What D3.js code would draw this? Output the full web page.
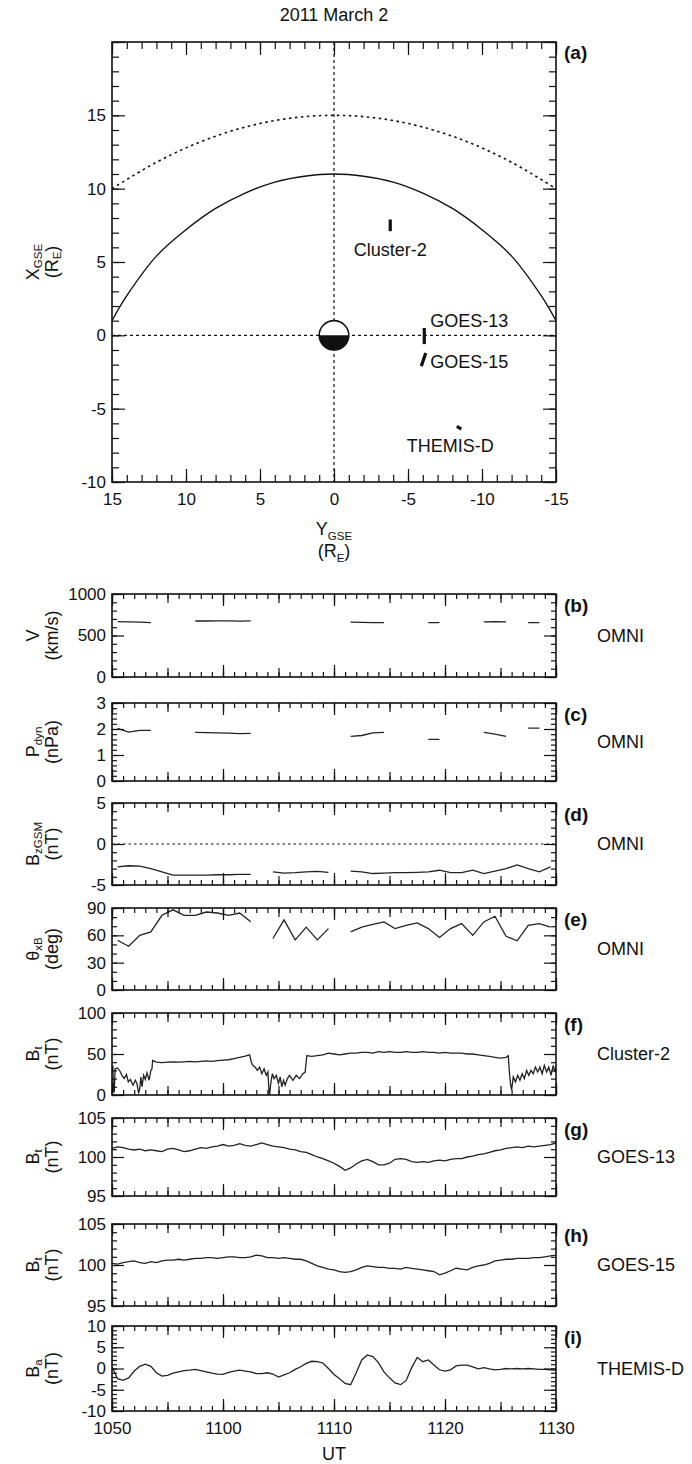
<!DOCTYPE html>
<html>
<head>
<meta charset="utf-8">
<title>2011 March 2</title>
<script src="https://cdn.jsdelivr.net/npm/d3@7"></script>
<style>
  body { margin: 0; background: #fff; }
  svg { display: block; font-family: "Liberation Sans", Arial, Helvetica, sans-serif; }
</style>
</head>
<body>
<svg id="chart" width="692" height="1464"></svg>
<script>
// ---------- panel (a): orbit plot in GSE, units of R_E
const magnetopauseY = [15, 14, 12, 10, 8, 6, 4, 2, 0, -2, -4, -6, -8, -10, -12, -14, -15];
const magnetopauseX = [1.0, 2.7, 5.4, 7.2, 8.65, 9.7, 10.45, 10.85, 11.0, 10.85, 10.45, 9.7, 8.65, 7.2, 5.4, 2.7, 1.0];
const bowShockY = [15, 12, 9, 6, 3, 0, -3, -6, -9, -12, -15];
const bowShockX = [10.0, 11.8, 13.2, 14.2, 14.8, 15.0, 14.8, 14.2, 13.2, 11.8, 10.0];
const craftNames = ["Cluster-2", "GOES-13", "GOES-15", "THEMIS-D"];
const craftTrackY = [[-3.8, -3.8], [-6.1, -6.1], [-6.2, -5.9], [-8.3, -8.6]];
const craftTrackX = [[7.9, 7.1], [0.5, -0.6], [-1.2, -2.1], [-6.2, -6.4]];
const craftLabelY = [-3.8, -6.5, -6.5, -7.85];
const craftLabelX = [5.85, 0.95, -1.85, -7.55];
const earthRadius = 1;
const orbitXTicks = [15, 10, 5, 0, -5, -10, -15];
const orbitYTicks = [-10, -5, 0, 5, 10, 15, 20];

// ---------- OMNI solar wind (minutes after 10:50 UT, null = data gap)
const swTime  = [0.5, 1.5, 2.5, 3.5, 5, 7.5, 8.5, 9.5, 10.5, 11.5, 12.5, 17, 21.5, 22.5, 23.5, 24.5, 26, 28.5, 29.5, 31, 33.5, 34.5, 35.5, 36.5, 37.5, 38.5];
const swSpeed = [668, 665, 660, 655, null, 675, 675, 676, 675, 674, 675, null, 660, 658, 656, 654, null, 655, 655, null, 665, 668, 665, null, 655, 655];
const swPdyn  = [2.02, 1.88, 1.95, 1.95, null, 1.87, 1.86, 1.85, 1.84, 1.82, 1.83, null, 1.72, 1.75, 1.85, 1.87, null, 1.6, 1.6, null, 1.87, 1.8, 1.72, null, 2.03, 2.03];

const imfTime = [0.5, 1.5, 2.5, 3.5, 4.5, 5.5, 6.5, 7.5, 8.5, 9.5, 10.5, 11.5, 12.5, 13.5,
  14.5, 15.5, 16.5, 17.5, 18.5, 19.5, 20.5,
  21.5, 22.5, 23.5, 24.5, 25.5, 26.5, 27.5, 28.5, 29.5, 30.5, 31.5, 32.5, 33.5, 34.5, 35.5, 36.5, 37.5, 38.5, 39.5];
const imfBz = [-2.8, -2.65, -2.7, -3.0, -3.4, -3.8, -3.8, -3.8, -3.8, -3.75, -3.75, -3.7, -3.7, null,
  -3.4, -3.55, -3.5, -3.4, -3.35, -3.45, null,
  -3.3, -3.4, -3.6, -3.55, -3.5, -3.5, -3.45, -3.4, -3.2, -3.5, -3.5, -3.2, -3.6, -3.3, -3.0, -2.55, -3.0, -3.4, -2.8];
const imfTheta = [54.6, 48, 60, 63.8, 82, 88, 82, 82, 85.6, 84.5, 82, 84.5, 75, null,
  56.5, 77, 55, 69, 55, 67.4, null,
  63.8, 69, 72, 74.7, 67.4, 71, 73.6, 67.4, 57.6, 67.4, 72.9, 60, 74.7, 80.9, 59, 54, 71, 72.9, 69];

// ---------- Cluster-2 |B|
const clusterTime = [0, 0.08, 0.12, 0.2, 0.28, 0.5, 0.72, 0.9, 1.1, 1.3, 1.47, 1.65, 1.9, 2.1, 2.25, 2.4, 2.5, 2.6, 2.7, 2.85,
  3.0, 3.15, 3.35, 3.5, 3.6, 3.66, 4, 4.5, 5, 5.5, 6, 6.5, 7, 7.5, 8, 8.5, 9, 9.5, 10, 10.5,
  11, 11.5, 12, 12.4, 12.55, 12.7, 12.9, 13.1, 13.3, 13.5, 13.7, 13.9, 14.05, 14.15, 14.2, 14.3, 14.45, 14.6, 14.8, 15.0,
  15.15, 15.3, 15.45, 15.6, 15.8, 16.0, 16.3, 16.6, 16.9, 17.2, 17.4, 17.55, 18, 18.5, 19, 19.5, 20, 20.5, 21, 21.5,
  22, 22.5, 23, 23.5, 24, 24.5, 25, 25.5, 26, 26.5, 27, 27.5, 28, 28.5, 29, 29.5, 30, 30.5, 31, 31.5,
  32, 32.5, 33, 33.5, 34, 34.5, 35, 35.5, 35.7, 35.8, 35.9, 36.0, 36.15, 36.35, 36.55, 36.75, 36.95, 37.15, 37.35, 37.55,
  37.75, 37.95, 38.15, 38.35, 38.55, 38.75, 38.95, 39.15, 39.35, 39.55, 39.75, 39.9, 40];
const clusterBt = [28, 36, 6, 3, 32, 33, 29, 24, 20, 25, 16, 19, 12, 18, 14, 2, 8, 22, 10, 24,
  19, 27, 18, 30, 32, 42, 40, 39.5, 40, 40.5, 40, 40.5, 41, 40.5, 41, 41.5, 41, 42, 42.5, 43,
  44.5, 46, 47.5, 49, 40, 36, 34, 30, 34, 26, 32, 24, 28, 2, 0, 14, 26, 20, 24, 14,
  22, 10, 18, 12, 20, 24, 18, 24, 20, 26, 28, 48, 47, 48, 49, 51, 50, 49, 50, 51,
  51, 52, 52, 51, 53, 52, 53, 52, 52, 53, 52, 52, 53, 52, 52, 51, 52, 51, 51, 51,
  50, 50, 49, 48, 47, 46, 45, 46, 48, 28, 14, 6, 22, 16, 24, 18, 26, 20, 30, 24,
  30, 26, 34, 28, 34, 26, 36, 28, 34, 24, 36, 28, 34];

// ---------- GOES-13, GOES-15, THEMIS-D (every 0.5 min from 10:50 UT)
const goes13Bt = [101.1, 101.3, 101.2, 101.0, 100.9, 101.0, 100.8, 100.9, 100.8, 100.7,
  101.0, 101.1, 100.9, 100.7, 100.8, 101.0, 101.2, 101.1, 101.3, 101.4,
  101.6, 101.4, 101.5, 101.7, 101.5, 101.4, 101.6, 101.8, 101.6, 101.4,
  101.3, 101.2, 101.0, 100.9, 100.7, 100.6, 100.3, 100.0, 99.8, 99.5,
  99.2, 98.8, 98.3, 98.6, 99.1, 99.5, 99.7, 99.4, 99.0, 99.0,
  99.2, 99.7, 99.8, 99.7, 99.4, 99.3, 99.4, 99.3, 99.5, 99.6,
  99.5, 99.7, 99.8, 99.8, 100.0, 100.1, 100.3, 100.4, 100.6, 100.8,
  100.9, 101.1, 101.2, 101.3, 101.2, 101.4, 101.3, 101.4, 101.5, 101.6,
  101.8];
const goes15Bt = [100.2, 100.1, 100.3, 100.4, 100.5, 100.3, 100.2, 100.4, 100.3, 100.5,
  100.6, 100.6, 100.7, 100.6, 100.7, 100.8, 100.8, 100.9, 100.9, 100.8,
  100.9, 101.0, 101.0, 100.9, 100.9, 101.0, 101.2, 101.1, 100.9, 100.9,
  100.8, 100.9, 100.8, 100.7, 100.7, 100.5, 100.2, 99.9, 99.7, 99.5,
  99.4, 99.2, 99.1, 99.2, 99.4, 99.7, 99.9, 99.8, 99.7, 99.7,
  99.6, 99.6, 99.5, 99.7, 99.6, 99.5, 99.4, 99.3, 99.2, 98.8,
  99.0, 99.3, 99.6, 99.5, 99.4, 99.7, 99.9, 100.0, 100.2, 100.5,
  100.6, 100.7, 100.7, 100.8, 100.8, 100.8, 100.9, 100.9, 101.0, 101.1,
  101.2];
const themisBa = [0.4, -2.4, -2.8, -2.2, -0.6, 0.5, 1.0, 0.5, -1.0, -1.8,
  -1.6, -1.1, -0.8, -0.5, -0.4, -0.2, -0.5, -0.8, -1.1, -1.3,
  -1.4, -0.9, -0.6, -0.4, -0.6, -0.8, -1.2, -1.2, -1.0, -1.3,
  -2.0, -1.5, -1.0, -0.2, 0.4, 1.2, 1.7, 1.6, 1.3, 0.0,
  -1.4, -2.4, -3.5, -3.8, -1.0, 2.0, 3.2, 2.8, 1.4, -0.8,
  -2.2, -3.4, -3.8, -2.8, 0.2, 2.6, 1.6, 2.0, 0.8, -0.3,
  -0.6, -0.3, 0.6, 0.8, 0.8, 0.4, -0.1, 0.2, -0.1, -0.3,
  -0.2, 0.0, -0.1, 0.0, -0.1, 0.0, -0.1, -0.2, -0.2, -0.3,
  -0.4];
const halfMinuteTime = d3.range(0, 40.25, 0.5);

// ---------- axis tick labels
const speedTicks = [0, 500, 1000];
const pdynTicks = [0, 1, 2, 3];
const bzTicks = [-5, 0, 5];
const thetaTicks = [0, 30, 60, 90];
const clusterTicks = [0, 50, 100];
const goesTicks = [95, 100, 105];
const themisTicks = [-10, -5, 0, 5, 10];

// ---------- layout
const L = 112, R = 556;
const svg = d3.select("#chart");
const ink = "#111";

function addTicks(g, axisFn, scale, values, len, transform, fmt, pad) {
  const axis = axisFn(scale).tickValues(values).tickSize(-len)
    .tickPadding(pad || 6).tickFormat(fmt || (() => ""));
  const a = g.append("g").attr("transform", transform).call(axis)
    .attr("font-family", null).attr("font-size", 17);
  a.select(".domain").remove();
  a.selectAll(".tick line").attr("stroke", ink).attr("stroke-width", 1.2);
  a.selectAll(".tick text").attr("fill", ink);
  return a;
}

// text with subscripts: parts = [[string, isSubscript], ...]
function richText(sel, parts, size, shift) {
  let sub = false;
  const dy = size * shift;
  parts.forEach(([s, isSub]) => {
    const t = sel.append("tspan").text(s);
    if (isSub) t.attr("font-size", size * 0.64);
    if (isSub && !sub) t.attr("dy", dy);
    if (!isSub && sub) t.attr("dy", -dy);
    sub = isSub;
  });
}

function yLabel(nameParts, unitParts, cy) {
  [[nameParts, 39], [unitParts, 58]].forEach(([parts, x]) => {
    const t = svg.append("text")
      .attr("transform", `translate(${x},${cy}) rotate(-90)`)
      .attr("text-anchor", "middle").attr("font-size", 18).attr("fill", ink);
    richText(t, parts, 18, 0.14);
  });
}

// ---------- title
svg.append("text").attr("x", 334).attr("y", 21).attr("text-anchor", "middle")
  .attr("font-size", 18).attr("fill", ink).text("2011 March 2");

// ---------- panel (a)
const ax = d3.scaleLinear().domain([15, -15]).range([L, R]);
const ay = d3.scaleLinear().domain([-10, 20]).range([482, 42]);
const ga = svg.append("g");
ga.append("clipPath").attr("id", "clip-a").append("rect")
  .attr("x", L).attr("y", ay(20)).attr("width", R - L).attr("height", ay(-10) - ay(20));

ga.append("line").attr("x1", ax(0)).attr("x2", ax(0)).attr("y1", ay(20)).attr("y2", ay(-10))
  .attr("stroke", ink).attr("stroke-width", 1.2).attr("stroke-dasharray", "3,3");
ga.append("line").attr("x1", ax(15)).attr("x2", ax(-15)).attr("y1", ay(0)).attr("y2", ay(0))
  .attr("stroke", ink).attr("stroke-width", 1.2).attr("stroke-dasharray", "3,3");

const orbitLine = d3.line().x(d => ax(d[0])).y(d => ay(d[1])).curve(d3.curveCatmullRom);
ga.append("path").datum(bowShockY.map((y, i) => [y, bowShockX[i]]))
  .attr("clip-path", "url(#clip-a)")
  .attr("d", orbitLine).attr("fill", "none").attr("stroke", ink)
  .attr("stroke-width", 1.6).attr("stroke-dasharray", "2.5,3.5");
ga.append("path").datum(magnetopauseY.map((y, i) => [y, magnetopauseX[i]]))
  .attr("clip-path", "url(#clip-a)")
  .attr("d", orbitLine).attr("fill", "none").attr("stroke", ink).attr("stroke-width", 1.4);

// Earth: dayside white, nightside black
const ex = ax(0), ey = ay(0);
const erx = Math.abs(ax(earthRadius) - ax(0)), ery = Math.abs(ay(earthRadius) - ay(0));
ga.append("ellipse").attr("cx", ex).attr("cy", ey).attr("rx", erx).attr("ry", ery)
  .attr("fill", "#fff").attr("stroke", ink).attr("stroke-width", 1.6);
ga.append("path")
  .attr("d", `M${ex - erx},${ey} A${erx},${ery} 0 0 0 ${ex + erx},${ey} Z`)
  .attr("fill", ink);

craftNames.forEach((name, i) => {
  ga.append("line")
    .attr("x1", ax(craftTrackY[i][0])).attr("y1", ay(craftTrackX[i][0]))
    .attr("x2", ax(craftTrackY[i][1])).attr("y2", ay(craftTrackX[i][1]))
    .attr("stroke", ink).attr("stroke-width", 3.2);
  const anchor = (name === "GOES-13" || name === "GOES-15") ? "start" : "middle";
  ga.append("text").attr("x", ax(craftLabelY[i])).attr("y", ay(craftLabelX[i]))
    .attr("dominant-baseline", "central").attr("text-anchor", anchor)
    .attr("font-size", 18).attr("fill", ink).text(name);
});

ga.append("rect").attr("x", L).attr("y", ay(20)).attr("width", R - L)
  .attr("height", ay(-10) - ay(20)).attr("fill", "none").attr("stroke", ink).attr("stroke-width", 1.6);

const axMinor = d3.range(-15, 16, 1), ayMinor = d3.range(-10, 21, 1);
const numFmt = d => String(d);
addTicks(ga, d3.axisTop, ax, axMinor, 7, `translate(0,${ay(20)})`);
addTicks(ga, d3.axisTop, ax, orbitXTicks, 13, `translate(0,${ay(20)})`);
addTicks(ga, d3.axisBottom, ax, axMinor, 7, `translate(0,${ay(-10)})`);
addTicks(ga, d3.axisBottom, ax, orbitXTicks, 13, `translate(0,${ay(-10)})`, numFmt, 11);
addTicks(ga, d3.axisLeft, ay, ayMinor, 7, `translate(${L},0)`);
addTicks(ga, d3.axisLeft, ay, orbitYTicks, 13, `translate(${L},0)`, d => d === 20 ? "" : String(d), 6);
addTicks(ga, d3.axisRight, ay, ayMinor, 7, `translate(${R},0)`);
addTicks(ga, d3.axisRight, ay, orbitYTicks, 13, `translate(${R},0)`);

ga.append("text").attr("x", 564).attr("y", 59).attr("font-size", 19)
  .attr("font-weight", "bold").attr("fill", ink).text("(a)");
yLabel([["X", false], ["GSE", true]], [["(R", false], ["E", true], [")", false]], (ay(20) + ay(-10)) / 2);
const yg = svg.append("text").attr("x", 334).attr("y", 535).attr("text-anchor", "middle")
  .attr("font-size", 18).attr("fill", ink);
richText(yg, [["Y", false], ["GSE", true]], 18, 0.25);
const ye = svg.append("text").attr("x", 334).attr("y", 557).attr("text-anchor", "middle")
  .attr("font-size", 18).attr("fill", ink);
richText(ye, [["(R", false], ["E", true], [")", false]], 18, 0.25);

// ---------- time-series panels
const T0 = Date.UTC(2011, 2, 2, 10, 50);
const T1 = Date.UTC(2011, 2, 2, 11, 30);
const toDate = m => new Date(T0 + m * 60000);
const tx = d3.scaleUtc().domain([new Date(T0), new Date(T1)]).range([L, R]);
const min1 = d3.utcMinute.every(1).range(new Date(T0), new Date(T1 + 1));
const min5 = d3.utcMinute.every(5).range(new Date(T0), new Date(T1 + 1));
const min10 = d3.utcMinute.every(10).range(new Date(T0), new Date(T1 + 1));
const utFmt = d3.utcFormat("%H%M");

const panels = [
  { id: "b", top: 594, bottom: 677, domain: [0, 1000], ticks: speedTicks, minor: 100,
    name: [["V", false]], unit: [["(km/s)", false]], source: "OMNI", t: swTime, v: swSpeed },
  { id: "c", top: 703, bottom: 781, domain: [0, 3], ticks: pdynTicks, minor: 0.2,
    name: [["P", false], ["dyn", true]], unit: [["(nPa)", false]], source: "OMNI", t: swTime, v: swPdyn },
  { id: "d", top: 803, bottom: 885, domain: [-5, 5], ticks: bzTicks, minor: 1, zero: true,
    name: [["B", false], ["zGSM", true]], unit: [["(nT)", false]], source: "OMNI", t: imfTime, v: imfBz },
  { id: "e", top: 908, bottom: 990, domain: [0, 90], ticks: thetaTicks, minor: 10,
    name: [["θ", false], ["xB", true]], unit: [["(deg)", false]], source: "OMNI", t: imfTime, v: imfTheta },
  { id: "f", top: 1013, bottom: 1095, domain: [0, 100], ticks: clusterTicks, minor: 10,
    name: [["B", false], ["t", true]], unit: [["(nT)", false]], source: "Cluster-2", t: clusterTime, v: clusterBt },
  { id: "g", top: 1118, bottom: 1196, domain: [95, 105], ticks: goesTicks, minor: 1,
    name: [["B", false], ["t", true]], unit: [["(nT)", false]], source: "GOES-13", t: halfMinuteTime, v: goes13Bt },
  { id: "h", top: 1224, bottom: 1306, domain: [95, 105], ticks: goesTicks, minor: 1,
    name: [["B", false], ["t", true]], unit: [["(nT)", false]], source: "GOES-15", t: halfMinuteTime, v: goes15Bt },
  { id: "i", top: 1326, bottom: 1411, domain: [-10, 10], ticks: themisTicks, minor: 1,
    name: [["B", false], ["a", true]], unit: [["(nT)", false]], source: "THEMIS-D", t: halfMinuteTime, v: themisBa, last: true }
];

panels.forEach(p => {
  const g = svg.append("g");
  const y = d3.scaleLinear().domain(p.domain).range([p.bottom, p.top]);
  const minor = d3.range(p.domain[0], p.domain[1] + p.minor / 2, p.minor);

  g.append("clipPath").attr("id", "clip-" + p.id).append("rect")
    .attr("x", L).attr("y", p.top).attr("width", R - L).attr("height", p.bottom - p.top);

  if (p.zero) {
    g.append("line").attr("x1", L).attr("x2", R).attr("y1", y(0)).attr("y2", y(0))
      .attr("stroke", ink).attr("stroke-width", 1.2).attr("stroke-dasharray", "2.5,3");
  }

  const line = d3.line().defined(d => d[1] != null)
    .x(d => tx(toDate(d[0]))).y(d => y(d[1]));
  g.append("path").datum(p.t.map((t, i) => [t, p.v[i]]))
    .attr("clip-path", `url(#clip-${p.id})`)
    .attr("d", line).attr("fill", "none").attr("stroke", "#222").attr("stroke-width", 1.3);

  g.append("rect").attr("x", L).attr("y", p.top).attr("width", R - L).attr("height", p.bottom - p.top)
    .attr("fill", "none").attr("stroke", ink).attr("stroke-width", 1.6);

  addTicks(g, d3.axisLeft, y, minor, 5, `translate(${L},0)`);
  addTicks(g, d3.axisLeft, y, p.ticks, 12, `translate(${L},0)`, numFmt, 6);
  addTicks(g, d3.axisRight, y, minor, 5, `translate(${R},0)`);
  addTicks(g, d3.axisRight, y, p.ticks, 12, `translate(${R},0)`);

  [[min1, 5], [min5, 9], [min10, 12]].forEach(([vals, len]) => {
    addTicks(g, d3.axisTop, tx, vals, len, `translate(0,${p.top})`);
    addTicks(g, d3.axisBottom, tx, vals, len, `translate(0,${p.bottom})`);
  });
  if (p.last) addTicks(g, d3.axisBottom, tx, min10, 0, `translate(0,${p.bottom})`, utFmt, 11);

  g.append("text").attr("x", 564).attr("y", p.top + 18).attr("font-size", 19)
    .attr("font-weight", "bold").attr("fill", ink).text(`(${p.id})`);
  g.append("text").attr("x", 597).attr("y", (p.top + p.bottom) / 2)
    .attr("dominant-baseline", "central").attr("font-size", 18).attr("fill", ink).text(p.source);
  yLabel(p.name, p.unit, (p.top + p.bottom) / 2);
});

svg.append("text").attr("x", 334).attr("y", 1460).attr("text-anchor", "middle")
  .attr("font-size", 18).attr("fill", ink).text("UT");
</script>
</body>
</html>
